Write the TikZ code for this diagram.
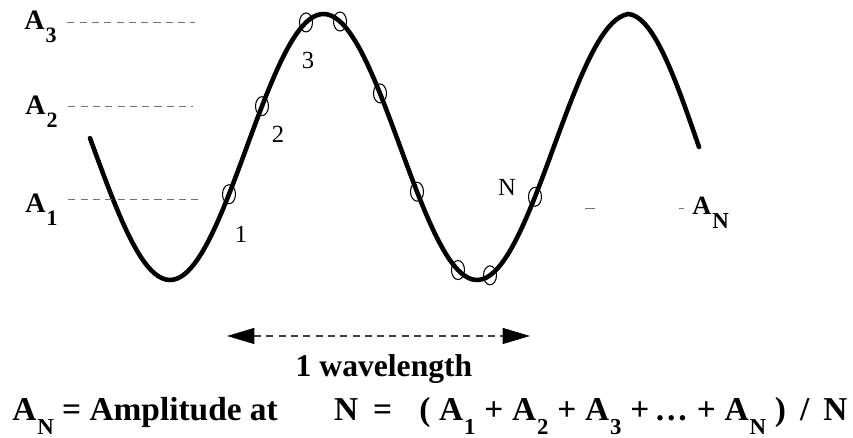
\documentclass[tikz,border=0pt]{standalone}
\usepackage{fontspec}
\setmainfont{Liberation Serif}
\usetikzlibrary{arrows.meta,shapes.geometric,positioning}

\newcommand{\ampl}[2][12.5]{A{\fontsize{#1}{#1}\selectfont\raisebox{-0.58em}{\hspace{0.5pt}#2}}}
\newcommand{\wavey}[1]{147+133*cos(1.1726*(#1-170))}

\begin{document}
\begin{tikzpicture}[x=0.02cm, y=-0.02cm,
    wave/.style={line width=2.6pt, line cap=round, line join=round},
    ring/.style={draw, ellipse, line width=0.6pt, minimum width=0.26cm, minimum height=0.38cm, inner sep=0pt},
    guide/.style={black!55, thin, dash pattern=on 4pt off 3pt},
    lab/.style={font=\bfseries\fontsize{16}{16}\selectfont, inner sep=0pt, anchor=base west},
    num/.style={font=\fontsize{14}{14}\selectfont, inner sep=0pt},
    big/.style={font=\bfseries\fontsize{19}{19}\selectfont, inner sep=0pt}]
    \useasboundingbox (0,0) rectangle (853,438);

    \draw[wave] plot[domain=90:627, samples=150] (\x, {\wavey{\x}})
        -- plot[domain=627:699, samples=25] (\x, {147-133*cos(1.25*(\x-627))});

    \foreach \n/\xx in {m1/229, m2/262, m3a/306, m3b/340, m4/380, m5/417, m6/458, m7/490, mN/535}
        \node[ring] (\n) at (\xx, {\wavey{\xx}}) {};

    \node[num] (n1) at (241,234) {1};
    \node[num] (n2) at (278,134) {2};
    \node[num] (n3) at (308,60) {3};
    \node[num] (nN) at (507,187) {N};

    \node[lab] (A3) at (24,30) {\ampl{3}};
    \node[lab] (A2) at (25,115) {\ampl{2}};
    \node[lab] (A1) at (25,213) {\ampl{1}};
    \node[lab, font=\bfseries\fontsize{15}{15}\selectfont] (AN) at (692,215) {\ampl[13]{N}};

    \coordinate (g3) at (195,22);
    \coordinate (g2) at (193,106);
    \coordinate (g1) at (200,199);
    \coordinate (gN) at (585,208);
    \draw[guide] ([xshift=6pt]A3.east |- g3) -- (g3);
    \draw[guide] ([xshift=6pt]A2.east |- g2) -- (g2);
    \draw[guide] ([xshift=6pt]A1.east |- g1) -- (g1);
    \draw[guide, dash pattern=on 5.7pt off 48pt on 2.8pt off 20pt] (gN) -- (AN.west |- gN);

    \coordinate (wl) at (227,336);
    \coordinate (wr) at (530,336);
    \draw[guide, black!75, line width=0.8pt,
          {Triangle[black, length=0.55cm, width=0.32cm]}-{Triangle[black, length=0.55cm, width=0.32cm]}] (wl) -- (wr);
    \node[big, anchor=base, font=\bfseries\fontsize{18}{18}\selectfont] (wlen) at (384,377) {1 wavelength};

    \node[big, anchor=base west] (formula) at (12,421)
        {\ampl[13]{N}\ =\ Amplitude at\hspace{32pt}N\hspace{8.5pt}=\hspace{15.5pt}(\hspace{5pt}\ampl[13]{1}\hspace{5pt}+\hspace{5pt}\ampl[13]{2}\hspace{5pt}+\hspace{5pt}\ampl[13]{3}\hspace{5pt}+\hspace{3pt}\dots\hspace{5pt}+\hspace{5pt}\ampl[13]{N}\hspace{5pt})\hspace{8pt}/\hspace{8pt}N};
\end{tikzpicture}
\end{document}
